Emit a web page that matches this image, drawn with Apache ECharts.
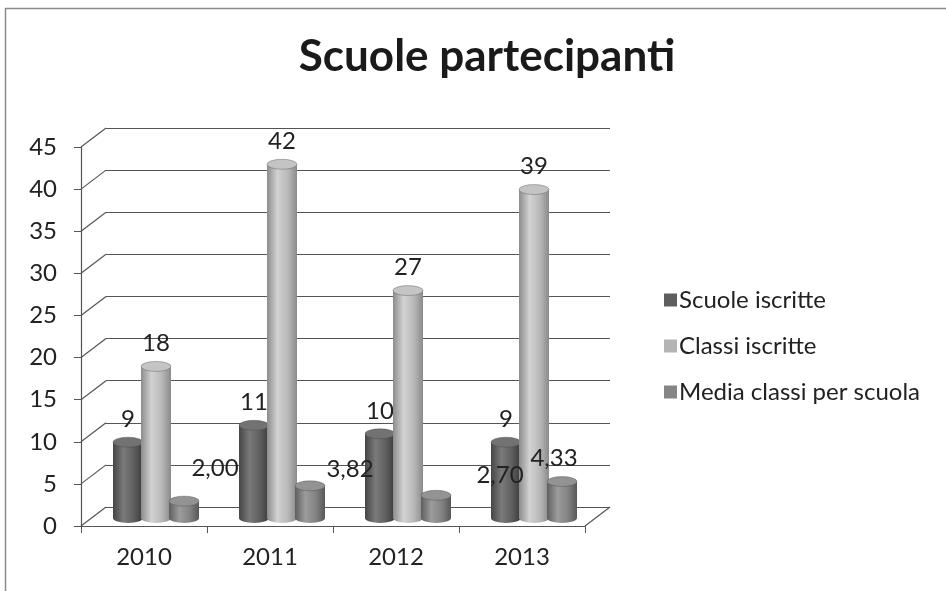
<!DOCTYPE html>
<html>
<head>
<meta charset="utf-8">
<script src="https://cdn.jsdelivr.net/npm/echarts@6/dist/echarts.min.js"></script>
<style>html,body{margin:0;padding:0;background:#fff}#c{width:946px;height:591px}</style>
</head>
<body>
<div id="c"></div>
<script>
const categories = ['2010', '2011', '2012', '2013'];
const seriesNames = ['Scuole iscritte', 'Classi iscritte', 'Media classi per scuola'];
const scuoleIscritte = [9, 11, 10, 9];
const classiIscritte = [18, 42, 27, 39];
const mediaClassi = [2.00, 3.82, 2.70, 4.33];
const yTicks = [0, 5, 10, 15, 20, 25, 30, 35, 40, 45];

const FONT = 'Lato, "Open Sans", sans-serif';
const DEPTH = [25, -19];
const BAR_W = 30;
const BAR_STEP = 28;
// label nudges for the 3D-style placement of the "Media" labels
const mediaLabelShift = [[31, -10], [40, 6], [64, 3], [-8, 0]];

const palettes = [
  { base: '#5e5e5e', stops: ['#454545', '#7a7a7a', '#5e5e5e', '#3a3a3a'], cap: '#727272' },
  { base: '#b4b4b4', stops: ['#8c8c8c', '#d2d2d2', '#b8b8b8', '#8a8a8a'], cap: '#c4c4c4' },
  { base: '#858585', stops: ['#5f5f5f', '#9c9c9c', '#828282', '#585858'], cap: '#939393' }
];

function fmt(si, v) {
  return si === 2 ? v.toFixed(2).replace('.', ',') : String(v);
}

function makeRender(si) {
  const pal = palettes[si];
  return function (params, api) {
    const cat = api.value(0), v = api.value(1);
    const top = api.coord([cat, v]);
    const base = api.coord([cat, 0]);
    const cx = top[0] + (si - 1) * BAR_STEP;
    const r = BAR_W / 2;
    const ry = 5;
    const grad = new echarts.graphic.LinearGradient(0, 0, 1, 0, [
      { offset: 0, color: pal.stops[0] },
      { offset: 0.35, color: pal.stops[1] },
      { offset: 0.7, color: pal.stops[2] },
      { offset: 1, color: pal.stops[3] }
    ]);
    let lx = cx, ly = top[1] - 11;
    if (si === 2) {
      const s = mediaLabelShift[params.dataIndex];
      lx += s[0]; ly += s[1];
    }
    return {
      type: 'group',
      children: [
        { type: 'circle', x: cx, y: base[1], scaleY: ry / r, shape: { cx: 0, cy: 0, r: r }, style: { fill: grad } },
        { type: 'rect', shape: { x: cx - r, y: top[1], width: BAR_W, height: base[1] - top[1] }, style: { fill: grad } },
        { type: 'circle', x: cx, y: top[1], scaleY: ry / r, shape: { cx: 0, cy: 0, r: r }, style: { fill: pal.cap, stroke: 'rgba(60,60,60,0.5)', lineWidth: 1 } },
        { type: 'text', x: lx, y: ly, style: { text: fmt(si, v), fill: '#222', font: '24px ' + FONT, align: 'center', verticalAlign: 'bottom' } }
      ]
    };
  };
}

function toData(arr) { return arr.map((v, i) => [i, v]); }

const wallData = yTicks.map(v => [0, v]).concat([[1, 0]]);

const chart = echarts.init(document.getElementById('c'), null, { renderer: 'canvas' });
chart.setOption({
  backgroundColor: '#ffffff',
  animation: false,
  title: {
    text: 'Scuole partecipanti',
    left: 482, top: 30, textAlign: 'center',
    textStyle: { fontFamily: FONT, fontWeight: 'bold', fontSize: 44, color: '#1a1a1a' }
  },
  legend: {
    data: seriesNames,
    orient: 'vertical',
    left: 659, top: 283,
    itemWidth: 13, itemHeight: 13, itemGap: 22,
    icon: 'rect',
    textStyle: { fontFamily: FONT, fontSize: 24, color: '#222', padding: [0, 0, 0, -3] }
  },
  graphic: [
    { type: 'rect', silent: true, shape: { x: 5.5, y: 8.5, width: 1000, height: 1000 }, style: { fill: null, stroke: '#8a8a8a', lineWidth: 1.5 } }
  ],
  grid: [
    { left: 81, right: 361, top: 147, bottom: 65 },   // front (axes)
    { left: 106, right: 336, top: 128, bottom: 84 },  // back wall
    { left: 93, right: 349, top: 139, bottom: 73 }    // bars at mid depth
  ],
  xAxis: [
    { gridIndex: 0, type: 'category', data: categories, boundaryGap: true,
      axisLine: { lineStyle: { color: '#555', width: 1.2 } },
      axisTick: { show: true, length: 7, lineStyle: { color: '#555' } },
      axisLabel: { fontFamily: FONT, fontSize: 24, color: '#222', margin: 19 } },
    { gridIndex: 1, type: 'value', min: 0, max: 1, show: false },
    { gridIndex: 2, type: 'category', data: categories, show: false }
  ],
  yAxis: [
    { gridIndex: 0, type: 'value', min: 0, max: 45, interval: 5,
      axisLine: { show: true, lineStyle: { color: '#555', width: 1.2 } },
      axisTick: { show: true, length: 7, lineStyle: { color: '#555' } },
      splitLine: { show: false },
      axisLabel: { fontFamily: FONT, fontSize: 24, color: '#222', margin: 24 } },
    { gridIndex: 1, type: 'value', min: 0, max: 45, interval: 5,
      axisLine: { show: false }, axisTick: { show: false }, axisLabel: { show: false },
      splitLine: { show: true, lineStyle: { color: '#555', width: 1.2 } } },
    { gridIndex: 2, type: 'value', min: 0, max: 45, interval: 5, show: false }
  ],
  series: [
    {
      name: 'walls', type: 'custom', xAxisIndex: 1, yAxisIndex: 1, silent: true, z: 1,
      data: wallData,
      renderItem: function (params, api) {
        const p = api.coord([api.value(0), api.value(1)]);
        return { type: 'line', shape: { x1: p[0], y1: p[1], x2: p[0] - DEPTH[0], y2: p[1] - DEPTH[1] }, style: { stroke: '#555', lineWidth: 1.2 } };
      }
    },
    { name: seriesNames[0], type: 'custom', xAxisIndex: 2, yAxisIndex: 2, z: 3, itemStyle: { color: palettes[0].base }, data: toData(scuoleIscritte), renderItem: makeRender(0) },
    { name: seriesNames[1], type: 'custom', xAxisIndex: 2, yAxisIndex: 2, z: 3, itemStyle: { color: palettes[1].base }, data: toData(classiIscritte), renderItem: makeRender(1) },
    { name: seriesNames[2], type: 'custom', xAxisIndex: 2, yAxisIndex: 2, z: 3, itemStyle: { color: palettes[2].base }, data: toData(mediaClassi), renderItem: makeRender(2) }
  ]
});
</script>
</body>
</html>
